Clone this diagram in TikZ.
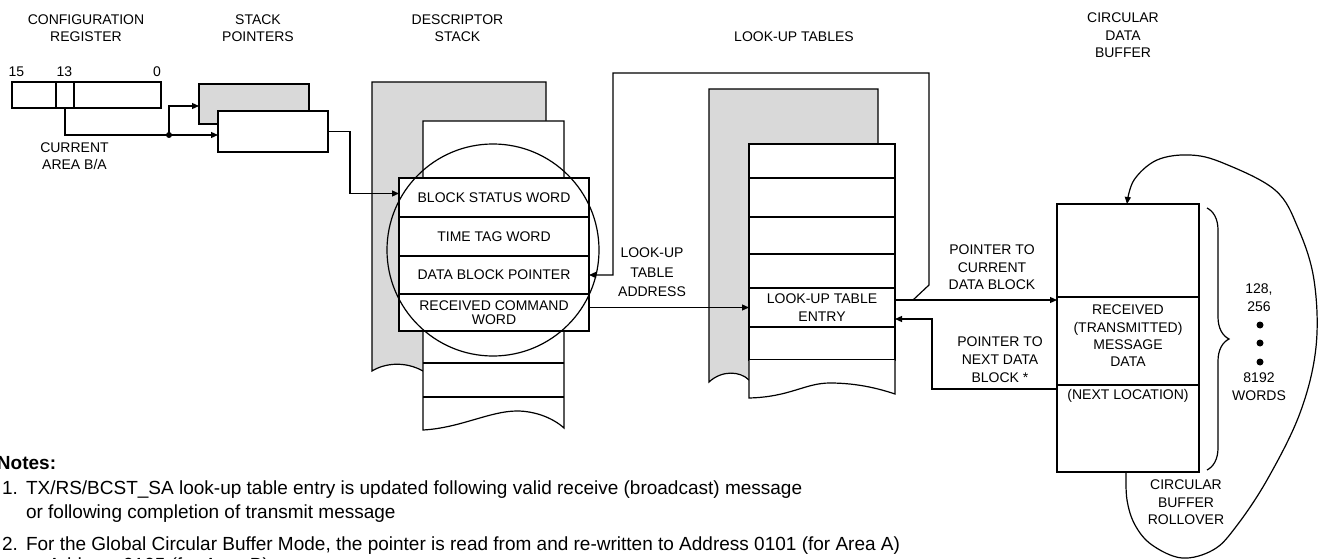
\documentclass[tikz,border=0pt]{standalone}
\usepackage{fontspec}
\setmainfont{Liberation Sans}
\usetikzlibrary{arrows.meta,calc,decorations.pathreplacing}
\definecolor{shade}{RGB}{217,217,217}
\begin{document}
\begin{tikzpicture}[x=1pt,y=-1pt,line width=1.2pt,
 every node/.style={inner sep=0pt, outer sep=0pt, font=\fontsize{14}{17}\selectfont},
 lbl/.style={align=center},
 arr/.style={-{Triangle[length=7pt,width=6pt]}},
 dcell/.style={draw, fill=white, minimum width=190, align=center},
 lcell/.style={draw, fill=white, minimum width=146, align=center},
 bcell/.style={draw, fill=white, minimum width=142, align=center},
 notefont/.style={font=\fontsize{19}{24}\selectfont}]
\useasboundingbox (0,0) rectangle (1325,559);

% ---------- titles ----------
\node[lbl] (tcfg) at (86,28.5) {CONFIGURATION\\REGISTER};
\node[lbl] (tsp) at (258,28.5) {STACK\\POINTERS};
\node[lbl] (tds) at (457.5,28.5) {DESCRIPTOR\\STACK};
\node[anchor=base] (tlut) at (794,42) {LOOK-UP TABLES};
\node[lbl, font=\fontsize{14}{17.5}\selectfont] (tcdb) at (1123,35.5) {CIRCULAR\\DATA\\BUFFER};

% ---------- configuration register ----------
\node[anchor=base] (b15) at (16.5,77) {15};
\node[anchor=base] (b13) at (64.5,77) {13};
\node[anchor=base] (b0) at (157,77) {0};
\node[draw, minimum width=149, minimum height=26] (reg) at (86.5,95) {};
\node[draw, minimum width=18, minimum height=26] (bit13) at (65,95) {};
\node[lbl] (cur) at (74.5,156.5) {CURRENT\\AREA B/A};

% ---------- stack pointers ----------
\node[draw, fill=shade, minimum width=110, minimum height=40] (spback) at (254,104) {};
\node[draw, fill=white, minimum width=110, minimum height=41] (spfront) at (273,131.5) {};
\coordinate (j) at (169,135);
\draw[arr] (bit13.south) |- (j) -- (j -| spfront.west);
\draw[arr] (j) |- ($(spback.west)+(0,2)$);
\fill (j) circle[radius=3];

% ---------- descriptor stack ----------
\draw[fill=shade] (372,82) -- (546,82) -- (546,371) -- (423,371)
  .. controls (405,361) and (385,363) .. (372,371) -- cycle;
\draw[fill=white] (423,121) -- (564,121) -- (564,428)
  .. controls (553,418) and (535,411) .. (517,411)
  .. controls (490,411) and (460,428) .. (423,430) -- cycle;
\draw (423,363) -- (564,363);
\draw (423,397) -- (564,397);
\node[dcell, minimum height=39] (bsw) at (494,197.5) {BLOCK STATUS WORD};
\node[dcell, minimum height=39] (ttw) at (494,236.5) {TIME TAG WORD};
\node[dcell, minimum height=38] (dbp) at (494,275) {DATA BLOCK POINTER};
\node[dcell, minimum height=37, font=\fontsize{14}{14}\selectfont] (rcw) at (494,312.5) {RECEIVED COMMAND\\WORD};
\draw (493,250) circle[radius=106];

\draw[arr] (spfront.east) -- ++(22,0) |- ($(bsw.west)+(0,-4)$);

% ---------- look-up tables ----------
\draw[fill=shade] (709,89) -- (878,89) -- (878,380) -- (749,380)
  .. controls (740,371) and (722,370) .. (709,382) -- cycle;
\node[lcell, minimum height=34] (l1) at (822,161) {};
\node[lcell, minimum height=39] (l2) at (822,197.5) {};
\node[lcell, minimum height=37] (l3) at (822,235.5) {};
\node[lcell, minimum height=34] (l4) at (822,271) {};
\node[lcell, minimum height=39, font=\fontsize{14}{18}\selectfont] (entry) at (822,307.5) {LOOK-UP TABLE\\ENTRY};
\node[lcell, minimum height=33] (l6) at (822,343.5) {};
\draw[fill=white] (749,360) -- (749,398)
  .. controls (790,397) and (805,383) .. (830,383)
  .. controls (860,383) and (883,390) .. (895,394) -- (895,360);

\node[lbl, font=\fontsize{14}{19.5}\selectfont] (lta) at (652,272.5) {LOOK-UP\\TABLE\\ADDRESS};
\draw[arr] (rcw.east |- entry.west) -- (entry.west);

% ---------- circular data buffer ----------
\node[bcell, minimum height=93] (btop) at (1128,250.5) {};
\node[bcell, minimum height=88] (bmid) at (1128,341) {};
\node[bcell, minimum height=87] (bbot) at (1128,428.5) {};
\node[lbl, font=\fontsize{14}{17.3}\selectfont] (rtm) at (1128,336) {RECEIVED\\(TRANSMITTED)\\MESSAGE\\DATA};
\node[anchor=base] (nloc) at (1128,399) {(NEXT LOCATION)};

\draw[decorate, decoration={brace, amplitude=22pt}] (1207,208) -- (1207,470);
\node[anchor=base] (w128) at (1259,293) {128,};
\node[anchor=base] (w256) at (1259,311) {256};
\fill (1260,325) circle[radius=3.5];
\fill (1260,343) circle[radius=3.5];
\fill (1260,362) circle[radius=3.5];
\node[anchor=base] (w8192) at (1259,382) {8192};
\node[anchor=base] (wwords) at (1259,400) {WORDS};
\node[lbl, font=\fontsize{14}{17.5}\selectfont] (cbr) at (1186,502.5) {CIRCULAR\\BUFFER\\ROLLOVER};

\draw[arr] plot[smooth, tension=0.6] coordinates {(1126,472) (1127,500) (1135,525) (1152,545) (1182,558) (1213,550) (1235,528) (1267,480) (1300,413) (1316,347) (1314,280) (1298,228) (1275,190) (1223,163) (1190,155) (1157,160) (1134,180) (1127,204)};

% ---------- pointers ----------
\coordinate (eo) at ($(entry.east)+(0,-7.5)$);
\draw[arr] (eo) -- (eo -| bmid.west);
\draw[arr] ($(eo)+(18,0)$) -- ++(16,-15) |- ($(dbp.east)+(24,-202)$) |- (dbp.east);
\draw[arr] ($(bbot.north west)+(0,4)$) -- ++(-125,0) |- ($(entry.east)+(0,11.5)$);
\node[lbl, font=\fontsize{14}{17.5}\selectfont] (pcur) at (992,267.5) {POINTER TO\\CURRENT\\DATA BLOCK};
\node[lbl, font=\fontsize{14}{18}\selectfont] (pnext) at (1000,360) {POINTER TO\\NEXT DATA\\BLOCK *};

% ---------- notes ----------
\node[anchor=base west, font=\bfseries\fontsize{19}{23}\selectfont] (notes) at (-3,469) {Notes:};
\node[notefont, anchor=base west] (n1num) at (2,494) {1.};
\node[notefont, anchor=base west] (n1a) at (26,494) {TX/RS/BCST\_SA look-up table entry is updated following valid receive (broadcast) message};
\node[notefont, anchor=base west] (n1b) at (26,518) {or following completion of transmit message};
\node[notefont, anchor=base west] (n2num) at (2,550) {2.};
\node[notefont, anchor=base west] (n2a) at (26,550) {For the Global Circular Buffer Mode, the pointer is read from and re-written to Address 0101 (for Area A)};
\node[notefont, anchor=base west] (n2b) at (26,571) {or Address 0105 (for Area B)};
\end{tikzpicture}
\end{document}
